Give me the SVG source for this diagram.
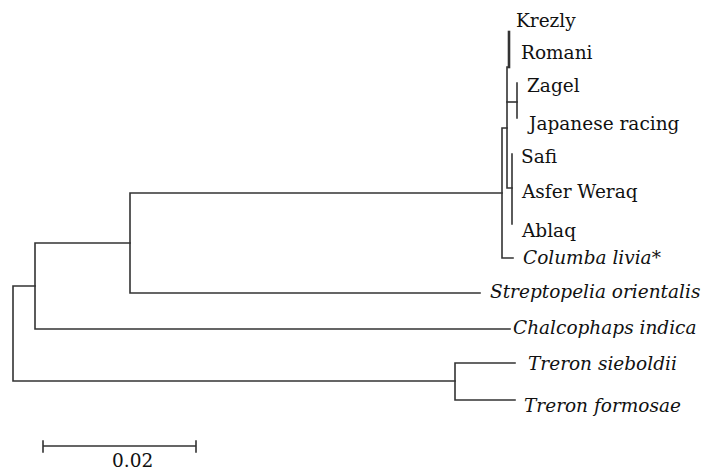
<svg xmlns="http://www.w3.org/2000/svg" width="709" height="473" viewBox="0 0 709 473">
  <style>
    .br { fill: none; stroke: #333; stroke-width: 1.6; stroke-linecap: square; }
    .lbl { font-family: "DejaVu Serif", "Liberation Serif", serif; font-size: 18.5px; fill: #111; }
    .sp { font-style: italic; }
  </style>
  <rect width="709" height="473" fill="#fff"/>

  <!-- branches of the tree -->
  <g id="connectors">
    <!-- root -->
    <path class="br" d="M35,286 H13 V381 H455"/>
    <!-- Treron -->
    <path class="br" d="M515,363 H455 V400 H515"/>
    <!-- Chalcophaps + rest -->
    <path class="br" d="M130,243 H35 V329 H510"/>
    <!-- Streptopelia + Columba -->
    <path class="br" d="M502,193 H130 V293 H480"/>
    <!-- Columba livia clade -->
    <path class="br" d="M507,128 H502 V258 H513"/>
    <!-- domestic breeds -->
    <path class="br" d="M509,67 H507 V188 H512"/>
    <path class="br" d="M507,102 H517"/>
    <!-- Zagel / Japanese racing -->
    <path class="br" d="M517,83 V118"/>
    <!-- Safi / Asfer Weraq / Ablaq -->
    <path class="br" d="M512,154 V224"/>
    <!-- Krezly / Romani -->
    <path class="br" d="M509,32 V67" style="stroke-width:2.6"/>
    <!-- scale bar -->
    <path class="br" d="M43,446 H196 M43,441 V452 M196,441 V452"/>
  </g>

  <g id="node-krezly"><text class="lbl" x="516" y="27">Krezly</text></g>
  <g id="node-romani"><text class="lbl" x="521" y="59">Romani</text></g>
  <g id="node-zagel"><text class="lbl" x="527" y="92">Zagel</text></g>
  <g id="node-japanese-racing"><text class="lbl" x="529" y="130">Japanese racing</text></g>
  <g id="node-safi"><text class="lbl" x="521" y="163">Safi</text></g>
  <g id="node-asfer-weraq"><text class="lbl" x="522" y="198">Asfer Weraq</text></g>
  <g id="node-ablaq"><text class="lbl" x="522" y="237">Ablaq</text></g>
  <g id="node-columba-livia"><text class="lbl sp" x="523" y="264">Columba livia*</text></g>
  <g id="node-streptopelia"><text class="lbl sp" x="490" y="298">Streptopelia orientalis</text></g>
  <g id="node-chalcophaps"><text class="lbl sp" x="513" y="334">Chalcophaps indica</text></g>
  <g id="node-treron-sieboldii"><text class="lbl sp" x="528" y="370">Treron sieboldii</text></g>
  <g id="node-treron-formosae"><text class="lbl sp" x="524" y="412">Treron formosae</text></g>
  <g id="scale"><text class="lbl" x="112" y="467">0.02</text></g>
</svg>
